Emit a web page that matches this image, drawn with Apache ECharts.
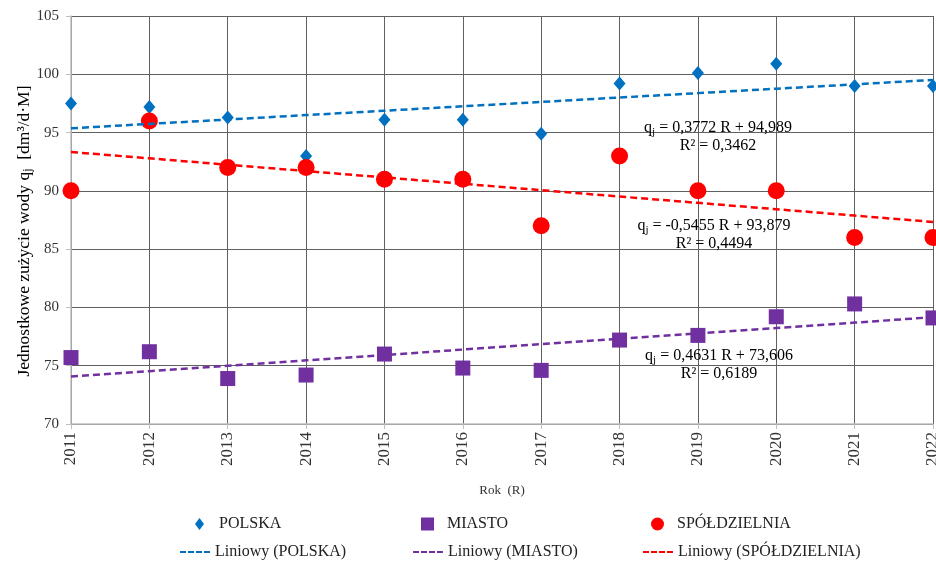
<!DOCTYPE html>
<html>
<head>
<meta charset="utf-8">
<script src="https://cdn.jsdelivr.net/npm/echarts@6/dist/echarts.min.js"></script>
<style>
  html, body { margin: 0; padding: 0; background: #fff; overflow: hidden; }
  #chart { width: 936px; height: 562px; }
</style>
</head>
<body>
<div id="chart"></div>
<script>
// Years (R = 1 .. 12)
const years = ['2011','2012','2013','2014','2015','2016','2017','2018','2019','2020','2021','2022'];

// Unit water use q_j [dm3/d·M]
const polska = [97.5, 97.2, 96.3, 93.0, 96.1, 96.1, 94.9, 99.2, 100.1, 100.9, 99.0, 99.0];
const miasto = [75.7, 76.2, 73.9, 74.2, 76.0, 74.8, 74.6, 77.2, 77.6, 79.2, 80.3, 79.1];
const spoldzielnia = [90.0, 96.0, 92.0, 92.0, 91.0, 91.0, 87.0, 93.0, 90.0, 90.0, 86.0, 86.0];

// Linear trend coefficients: q_j = a·R + b, with R²
const trendNames = ['POLSKA', 'MIASTO', 'SPÓŁDZIELNIA'];
const trendSlope = [0.3772, 0.4631, -0.5455];
const trendIntercept = [94.989, 73.606, 93.879];
const trendR2 = [0.3462, 0.6189, 0.4494];

const yTicks = [70, 75, 80, 85, 90, 95, 100, 105];

const FONT = "'Liberation Serif', 'Times New Roman', serif";
const colors = { POLSKA: '#0070C0', MIASTO: '#7030A0', 'SPÓŁDZIELNIA': '#FF0000' };

function trendLine(k) {
  return years.map((_, i) => +(trendSlope[k] * (i + 1) + trendIntercept[k]).toFixed(4));
}
function pl(v, d) { return v.toFixed(d).replace('.', ','); }
function equation(k) {
  return '{t|q}{s|j}{t| = ' + pl(trendSlope[k], 4) + ' R + ' + pl(trendIntercept[k], 3) + '}\n{t|R² = ' + pl(trendR2[k], 4) + '}';
}

const chart = echarts.init(document.getElementById('chart'));
const dashIcon = 'path://M0,0h6v2h-6zM8,0h6v2h-6zM16,0h6v2h-6zM24,0h6v2h-6z';
const legendText = { fontFamily: FONT, fontSize: 16, color: '#222' };

function legendItem(name, left, top, icon, w, h, pad) {
  return {
    data: [name], left: left, top: top, icon: icon, itemWidth: w, itemHeight: h,
    textStyle: Object.assign({ padding: [0, 0, 0, pad] }, legendText),
    selectedMode: false
  };
}

const eqRich = {
  t: { fontFamily: FONT, fontSize: 16, color: '#333', lineHeight: 18 },
  s: { fontFamily: FONT, fontSize: 11, color: '#333', lineHeight: 18, padding: [8, 0, 0, 0] }
};
function eqText(k, cx, top) {
  return { type: 'text', x: cx, y: top, z: 100,
    style: { text: equation(k), rich: eqRich, align: 'center', verticalAlign: 'top' } };
}

const option = {
  backgroundColor: '#fff',
  animation: false,
  grid: { left: 71, right: 3, top: 16, bottom: 138, containLabel: false, outerBoundsMode: 'none' },
  xAxis: {
    type: 'category', data: years, boundaryGap: false,
    name: 'Rok  (R)', nameLocation: 'middle', nameGap: 60,
    nameTextStyle: { fontFamily: FONT, fontSize: 13, color: '#333' },
    axisLine: { lineStyle: { color: '#bfbfbf', width: 1.5 } },
    axisTick: { show: true, length: 5, lineStyle: { color: '#bfbfbf' } },
    axisLabel: { rotate: 90, fontFamily: FONT, fontSize: 17, color: '#333', margin: 8 },
    splitLine: { show: true, lineStyle: { color: '#606060', width: 1 } }
  },
  yAxis: {
    type: 'value', min: yTicks[0], max: yTicks[yTicks.length - 1], interval: 5,
    axisLine: { show: true, lineStyle: { color: '#bfbfbf', width: 1.5 } },
    axisTick: { show: true, length: 5, lineStyle: { color: '#bfbfbf' } },
    axisLabel: { fontFamily: FONT, fontSize: 15, color: '#333', margin: 12 },
    splitLine: { show: true, lineStyle: { color: '#606060', width: 1 } }
  },
  legend: [
    legendItem('POLSKA', 190, 511, 'diamond', 9, 12, 10),
    legendItem('MIASTO', 416, 511, 'rect', 13, 13, 8),
    legendItem('SPÓŁDZIELNIA', 646, 511, 'circle', 13, 13, 8),
    legendItem('Liniowy (POLSKA)', 175, 539, dashIcon, 30, 2, 0),
    legendItem('Liniowy (MIASTO)', 408, 539, dashIcon, 30, 2, 0),
    legendItem('Liniowy (SPÓŁDZIELNIA)', 638, 539, dashIcon, 30, 2, 0)
  ],
  graphic: [
    { type: 'text', x: 24, y: 231, rotation: Math.PI / 2, z: 100,
      style: {
        text: '{t|Jednostkowe zużycie wody q}{s|j}{t|  [dm³/d·M]}',
        align: 'center', verticalAlign: 'middle',
        rich: {
          t: { fontFamily: FONT, fontSize: 17.5, color: '#333' },
          s: { fontFamily: FONT, fontSize: 12, color: '#333', padding: [7, 0, 0, 0] }
        }
      } },
    eqText(0, 718, 119),
    eqText(2, 714, 217),
    eqText(1, 719, 347)
  ],
  series: [
    { name: 'POLSKA', type: 'scatter', data: polska, symbol: 'diamond', symbolSize: [12, 14],
      itemStyle: { color: colors.POLSKA, opacity: 1 }, z: 3 },
    { name: 'MIASTO', type: 'scatter', data: miasto, symbol: 'rect', symbolSize: 15,
      itemStyle: { color: colors.MIASTO, opacity: 1 }, z: 3 },
    { name: 'SPÓŁDZIELNIA', type: 'scatter', data: spoldzielnia, symbol: 'circle', symbolSize: 17,
      itemStyle: { color: colors['SPÓŁDZIELNIA'], opacity: 1 }, z: 3 }
  ].concat([0, 1, 2].map(k => ({
    name: 'Liniowy (' + trendNames[k] + ')', type: 'line', data: trendLine(k),
    showSymbol: false, symbol: 'none', z: 4, silent: true,
    itemStyle: { color: colors[trendNames[k]] },
    lineStyle: { color: colors[trendNames[k]], width: 2.5, type: [7, 4] }
  })))
};

chart.setOption(option);
</script>
</body>
</html>
